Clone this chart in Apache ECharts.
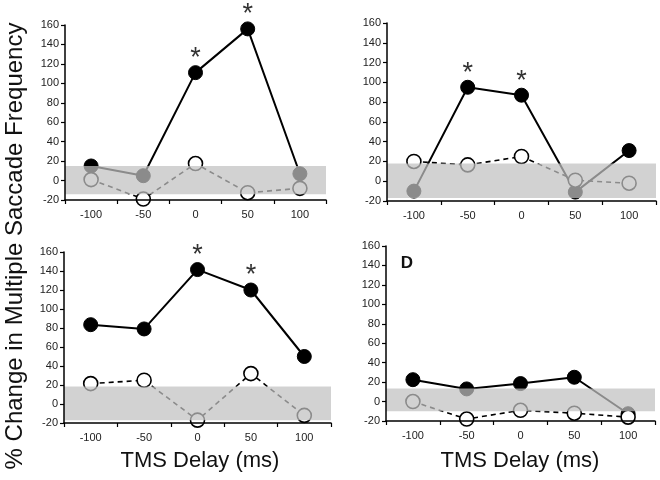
<!DOCTYPE html>
<html>
<head>
<meta charset="utf-8">
<script src="https://cdn.jsdelivr.net/npm/echarts@6/dist/echarts.min.js"></script>
<style>
html,body{margin:0;padding:0;background:#fff;}
#chart{width:660px;height:480px;}
</style>
</head>
<body>
<div id="chart"></div>
<script>
// ---- data ----
const categories = ['-100', '-50', '0', '50', '100'];
const yMin = -20, yMax = 160, yStep = 20;

const panelA_solid = [15, 5, 111, 156, 7];
const panelA_open  = [1, -19, 17.5, -12.5, -8];
const panelA_band  = [15, -14];
const panelA_sig   = [0, 0, 1, 1, 0];

const panelB_solid = [-10, 95, 87, -11, 31];
const panelB_open  = [20, 16.5, 25, 1, -2];
const panelB_band  = [18, -17];
const panelB_sig   = [0, 1, 1, 0, 0];

const panelC_solid = [83.5, 79, 141.5, 120, 50];
const panelC_open  = [21.5, 25, -17, 32, -12];
const panelC_band  = [18.5, -17];
const panelC_sig   = [0, 0, 1, 1, 0];

const panelD_solid = [22.5, 13, 18.5, 25, -12.5];
const panelD_open  = [0, -18, -9, -12, -16];
const panelD_band  = [13.5, -10];
const panelD_sig   = [0, 0, 0, 0, 0];

const panelD_letter = 'D';
const yTitle = '% Change in Multiple Saccade Frequency';
const xTitle = 'TMS Delay (ms)';

// ---- layout ----
const FONT = '"Liberation Sans", Arial, sans-serif';
const grids = [
  {left: 65,  top: 25,  width: 261, height: 175},
  {left: 387, top: 23,  width: 269, height: 178},
  {left: 64,  top: 252, width: 267, height: 171},
  {left: 386, top: 246, width: 269, height: 175}
];
const panels = [
  {solid: panelA_solid, open: panelA_open, band: panelA_band, sig: panelA_sig},
  {solid: panelB_solid, open: panelB_open, band: panelB_band, sig: panelB_sig},
  {solid: panelC_solid, open: panelC_open, band: panelC_band, sig: panelC_sig},
  {solid: panelD_solid, open: panelD_open, band: panelD_band, sig: panelD_sig}
];

const xAxes = grids.map((g, i) => ({
  type: 'category', gridIndex: i, data: categories, boundaryGap: true, z: 20,
  axisLine: {onZero: false, lineStyle: {color: '#000', width: 1.5}},
  axisTick: {show: true, length: 4, lineStyle: {color: '#000', width: 1.2}},
  axisLabel: {color: '#222', fontSize: 11, fontFamily: FONT, margin: 9},
  splitLine: {show: false}
}));
const yAxes = grids.map((g, i) => ({
  type: 'value', gridIndex: i, min: yMin, max: yMax, interval: yStep, z: 20,
  axisLine: {show: true, lineStyle: {color: '#000', width: 1.5}},
  axisTick: {show: true, length: 4, lineStyle: {color: '#000', width: 1.2}},
  axisLabel: {color: '#222', fontSize: 11, fontFamily: FONT, margin: 6},
  splitLine: {show: false}
}));

const series = [];
panels.forEach((p, i) => {
  series.push({
    type: 'line', xAxisIndex: i, yAxisIndex: i, z: 2,
    data: p.solid.map((v, k) => p.sig[k] ? {
      value: v,
      label: {show: true, formatter: '*', position: 'inside', offset: [0, -14],
              fontSize: 27, color: '#333', fontFamily: FONT}
    } : v),
    symbol: 'circle', symbolSize: 14,
    itemStyle: {color: '#000', borderColor: '#000', borderWidth: 1},
    lineStyle: {color: '#000', width: 2},
    label: {show: false},
    animation: false
  });
  series.push({
    type: 'line', xAxisIndex: i, yAxisIndex: i, z: 3,
    data: p.open,
    symbol: 'circle', symbolSize: 14,
    itemStyle: {color: '#fff', borderColor: '#000', borderWidth: 1.6},
    lineStyle: {color: '#000', width: 1.6, type: [5, 4]},
    animation: false
  });
  series.push({
    type: 'line', xAxisIndex: i, yAxisIndex: i, z: 5,
    data: [],
    markArea: {
      silent: true, z: 10,
      itemStyle: {color: 'rgba(193,193,193,0.72)'},
      data: [[{yAxis: p.band[0]}, {yAxis: p.band[1]}]]
    },
    animation: false
  });
});

const chart = echarts.init(document.getElementById('chart'), null, {renderer: 'canvas'});
chart.setOption({
  backgroundColor: '#fff',
  animation: false,
  grid: grids,
  xAxis: xAxes,
  yAxis: yAxes,
  series: series,
  graphic: [
    {type: 'text', x: 15, y: 246, rotation: Math.PI / 2,
     style: {text: yTitle, fontSize: 24, fontFamily: FONT, fill: '#111', align: 'center', verticalAlign: 'middle'}},
    {type: 'text', x: 200, y: 461,
     style: {text: xTitle, fontSize: 22, fontFamily: FONT, fill: '#111', align: 'center', verticalAlign: 'middle'}},
    {type: 'text', x: 520, y: 461,
     style: {text: xTitle, fontSize: 22, fontFamily: FONT, fill: '#111', align: 'center', verticalAlign: 'middle'}},
    {type: 'text', x: 407, y: 263,
     style: {text: panelD_letter, fontSize: 17, fontWeight: 'bold', fontFamily: FONT, fill: '#111', align: 'center', verticalAlign: 'middle'}}
  ]
});
</script>
</body>
</html>
